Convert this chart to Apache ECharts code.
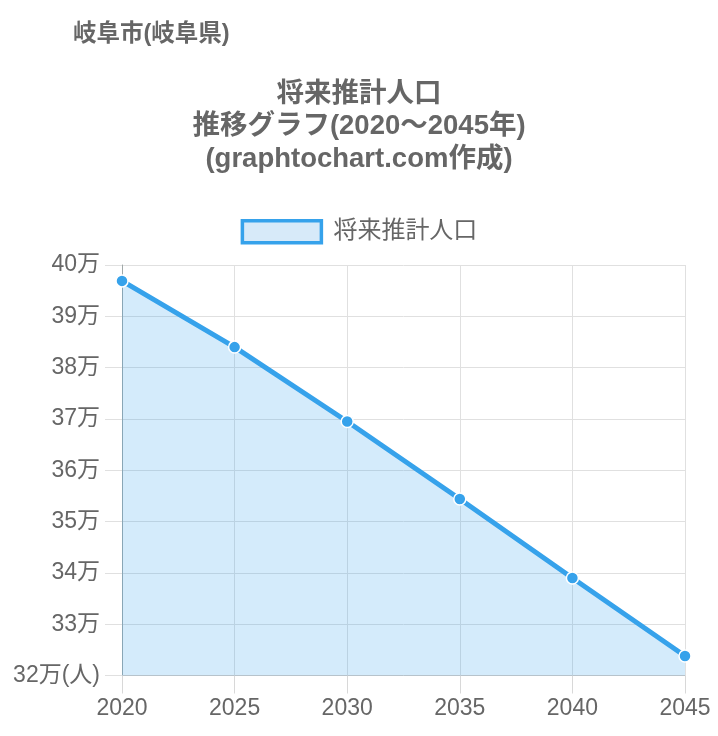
<!DOCTYPE html>
<html><head><meta charset="utf-8">
<script src="https://cdn.jsdelivr.net/npm/echarts@6/dist/echarts.min.js"></script>
<style>html,body{margin:0;padding:0;background:#fff}#c{width:718px;height:736px}</style>
</head><body><div id="c"></div>
<script>
const years = ['2020','2025','2030','2035','2040','2045'];
const population = [396900, 384000, 369500, 354400, 339000, 323800];
const seriesName = '将来推計人口';
const titleText = '将来推計人口\n推移グラフ(2020～2045年)\n(graphtochart.com作成)';
const subTitleText = '岐阜市(岐阜県)';
const yMin = 320000, yMax = 400000, yStep = 10000;

const FONT = '"Liberation Sans", Arial, "Noto Sans CJK JP", sans-serif';
const chart = echarts.init(document.getElementById('c'));
chart.setOption({
  animation: false,
  textStyle: { fontFamily: FONT },
  title: [
    { text: subTitleText, left: 73, top: 23, padding: 0,
      textStyle: { fontSize: 23.5, fontWeight: 'bold', color: '#666', lineHeight: 24, fontFamily: FONT } },
    { text: titleText, left: 'center', top: 78, padding: 0,
      textStyle: { fontSize: 27.5, fontWeight: 'bold', color: '#666', lineHeight: 32.5, fontFamily: FONT } }
  ],
  legend: {
    top: 219, left: 'center', padding: 0,
    itemWidth: 79, itemHeight: 22,
    icon: 'rect',
    data: [{ name: seriesName, icon: 'rect',
      itemStyle: { color: '#d7eaf9', borderColor: '#36a2eb', borderWidth: 3.5 } }],
    textStyle: { fontSize: 24, color: '#666', padding: [0, 0, 0, 7], fontFamily: FONT }
  },
  grid: { left: 122, right: 33, top: 265, bottom: 60.5, containLabel: false },
  xAxis: {
    type: 'category', data: years, boundaryGap: false,
    axisLine: { show: true, lineStyle: { color: '#c8c8c8', width: 1 } },
    axisTick: { show: true, length: 18, lineStyle: { color: '#d8d8d8' } },
    axisLabel: { fontSize: 23, color: '#666', margin: 22, fontFamily: FONT },
    splitLine: { show: true, lineStyle: { color: '#e0e0e0', width: 1 } }
  },
  yAxis: {
    type: 'value', min: yMin, max: yMax, interval: yStep,
    axisLine: { show: true, lineStyle: { color: '#a0a8a8', width: 1 } },
    axisTick: { show: true, length: 17, lineStyle: { color: '#e0e0e0' } },
    axisLabel: { fontSize: 23, color: '#666', margin: 22, fontFamily: FONT,
      formatter: v => (v / 10000) + '万' + (v === yMin ? '(人)' : '') },
    splitLine: { show: true, lineStyle: { color: '#e0e0e0', width: 1 } }
  },
  series: [{
    name: seriesName, type: 'line', data: population,
    symbol: 'circle', symbolSize: 12, showSymbol: true,
    lineStyle: { color: '#36a2eb', width: 5 },
    itemStyle: { color: '#36a2eb', borderColor: '#fff', borderWidth: 1.5 },
    areaStyle: { color: 'rgba(54,162,235,0.21)', opacity: 1 }
  }]
});
</script></body></html>
